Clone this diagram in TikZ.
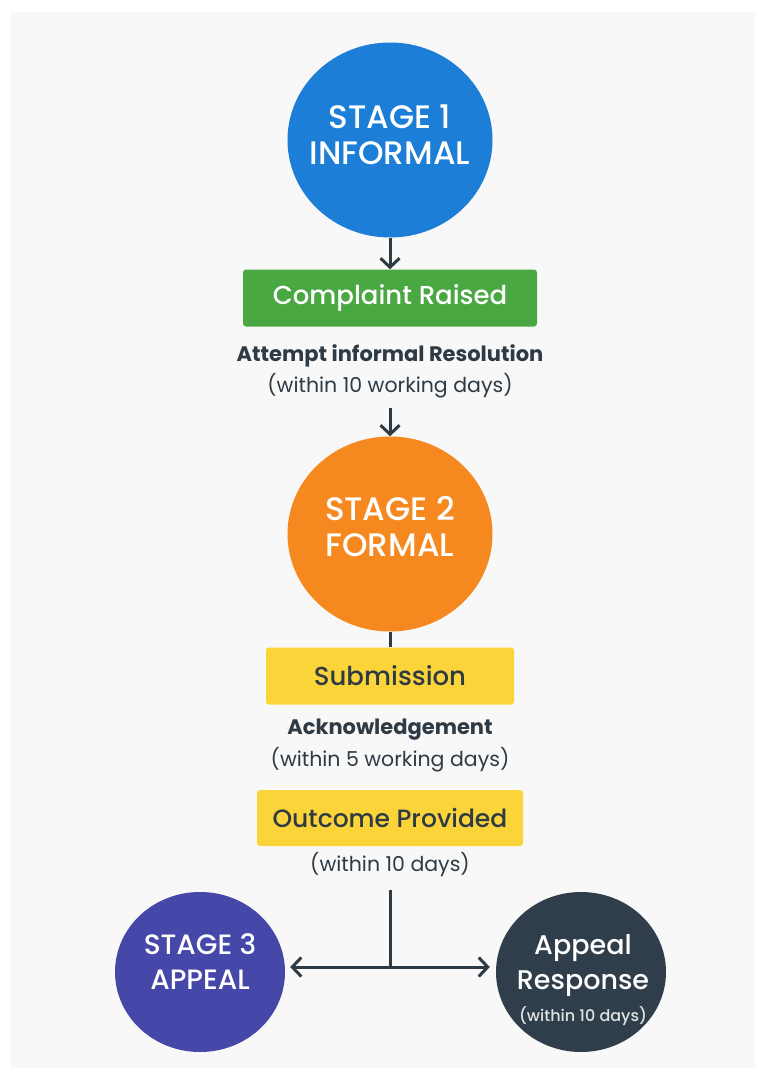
\documentclass[tikz,border=0pt]{standalone}
\usepackage{fontspec}
\setmainfont{Poppins}
\newfontfamily\medfont{Poppins Medium}
\usetikzlibrary{shapes.geometric}
\usetikzlibrary{arrows.meta}
\definecolor{pagegray}{HTML}{F8F8F8}
\definecolor{ink}{HTML}{2E3A44}
\definecolor{stageone}{HTML}{1C7ED6}
\definecolor{stagetwo}{HTML}{F5891F}
\definecolor{stagethree}{HTML}{4548A8}
\definecolor{respdark}{HTML}{2F3E4A}
\definecolor{boxgreen}{HTML}{49A842}
\definecolor{boxyellow}{HTML}{FBD43A}

\begin{document}
\begin{tikzpicture}[x=1pt, y=-1pt,
  stage/.style={ellipse, inner sep=0},
  bigstage/.style={stage, minimum width=205, minimum height=195},
  smallstage/.style={stage, minimum width=170, minimum height=160},
  stagetext/.style={text=white, align=center, inner sep=0, font=\medfont\fontsize{32.5}{36}\selectfont},
  smalltext/.style={stagetext, font=\medfont\fontsize{28}{35}\selectfont},
  stepbox/.style={rounded corners=3pt, minimum height=57, inner sep=0, align=center, font=\medfont\fontsize{26}{30}\selectfont},
  note/.style={text=ink, align=center, inner sep=1, font=\fontsize{20.5}{24}\selectfont},
  notehead/.style={note, font=\fontsize{21}{24}\selectfont\bfseries},
  link/.style={ink, line width=3pt, -{Straight Barb[length=9pt, width=19pt, line width=3pt]}},
  plain/.style={ink, line width=3pt}]
\fill[white] (0,0) rectangle (763,1083);
\fill[pagegray] (10,12) rectangle (755,1068);

% stage 1
\node[bigstage, fill=stageone] (s1) at (390,140) {};
\node[stagetext] (s1text) at (390,135) {STAGE 1\\INFORMAL};
\node[stepbox, fill=boxgreen, text=white, minimum width=294] (raised) at (390,298) {Complaint Raised};
\node[notehead] (attempt) at (390,356) {Attempt informal Resolution};
\node[note] (attemptdays) at (390,386) {(within 10 working days)};
\coordinate (s2in) at (390,408);

% stage 2
\node[bigstage, fill=stagetwo] (s2) at (390,534) {};
\node[stagetext] (s2text) at (390,527) {STAGE 2\\FORMAL};
\node[stepbox, fill=boxyellow, text=ink, minimum width=248] (submit) at (390,676) {Submission};
\node[notehead] (ack) at (390,730) {Acknowledgement};
\node[note] (ackdays) at (390,760) {(within 5 working days)};
\node[stepbox, fill=boxyellow, text=ink, minimum width=266, minimum height=56, font=\medfont\fontsize{25}{30}\selectfont] (outcome) at (390,818) {Outcome Provided};
\node[note] (outdays) at (390,865) {(within 10 days)};
\coordinate (drop) at (390,890);
\coordinate (fork) at (390,967);

% stage 3
\node[smallstage, fill=stagethree] (s3) at (200,972) {};
\node[smalltext] (s3text) at (200,962) {STAGE 3\\APPEAL};
\node[smallstage, fill=respdark] (resp) at (581,972) {};
\node[smalltext, font=\medfont\fontsize{27}{35}\selectfont] (resptext) at (583,980) {Appeal\\Response\\[-3pt]{\fontsize{16}{20}\selectfont\color{white!85!respdark}(within 10 days)}};

\draw[link] (s1.south) -- (raised.north);
\draw[link] (s2in) -- (s2.north);
\draw[plain] (s2.south) -- (submit.north);
\draw[plain] (drop) -- (fork);
\draw[link, shorten >=5pt] (fork) -- (s3.east |- fork);
\draw[link, shorten >=6pt] (fork) -- (resp.west |- fork);
\end{tikzpicture}
\end{document}
